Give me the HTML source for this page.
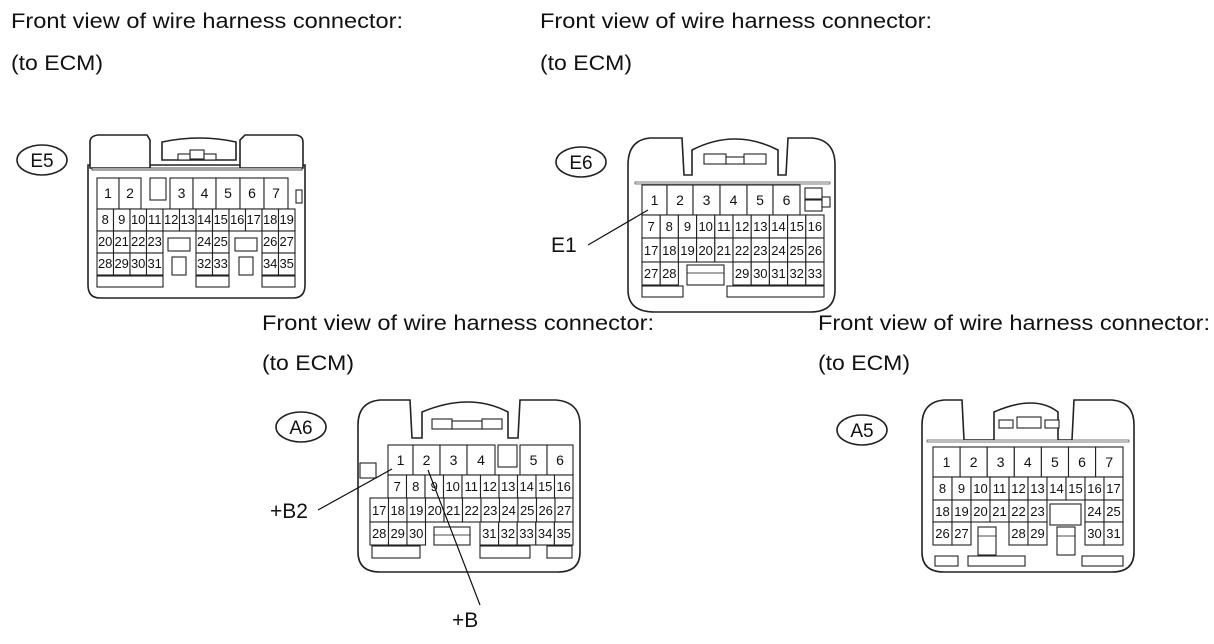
<!DOCTYPE html>
<html><head><meta charset="utf-8"><style>
html,body{margin:0;padding:0;background:#fff}
svg{display:block}
text{font-family:"Liberation Sans",Arial,sans-serif;fill:#111}
.h{font-size:21px}
.c rect{fill:#fff;stroke:#222;stroke-width:1.1}
.c text{font-size:13px;text-anchor:middle}
.c .b{font-size:14px}
.o{fill:#fff;stroke:#222;stroke-width:1.6}
.l{stroke:#111;stroke-width:1.2;fill:none}
.bd{font-size:19px;text-anchor:middle}
</style></head><body>
<svg width="1214" height="644" viewBox="0 0 1214 644" xmlns="http://www.w3.org/2000/svg">
<!-- headers -->
<text class="h" x="11" y="28" textLength="392" lengthAdjust="spacingAndGlyphs">Front view of wire harness connector:</text>
<text class="h" x="11" y="70" textLength="92" lengthAdjust="spacingAndGlyphs">(to ECM)</text>
<text class="h" x="540" y="28" textLength="392" lengthAdjust="spacingAndGlyphs">Front view of wire harness connector:</text>
<text class="h" x="540" y="70" textLength="92" lengthAdjust="spacingAndGlyphs">(to ECM)</text>
<text class="h" x="262" y="330" textLength="392" lengthAdjust="spacingAndGlyphs">Front view of wire harness connector:</text>
<text class="h" x="262" y="370" textLength="92" lengthAdjust="spacingAndGlyphs">(to ECM)</text>
<text class="h" x="818" y="330" textLength="392" lengthAdjust="spacingAndGlyphs">Front view of wire harness connector:</text>
<text class="h" x="818" y="370" textLength="92" lengthAdjust="spacingAndGlyphs">(to ECM)</text>

<!-- badges -->
<ellipse cx="42" cy="160" rx="25" ry="15" class="o"/><text class="bd" x="42" y="167">E5</text>
<ellipse cx="581" cy="162" rx="25" ry="15" class="o"/><text class="bd" x="581" y="169">E6</text>
<ellipse cx="301" cy="427" rx="25" ry="15" class="o"/><text class="bd" x="301" y="434">A6</text>
<ellipse cx="862" cy="430" rx="25" ry="15" class="o"/><text class="bd" x="862" y="437">A5</text>

<!-- ================= E5 ================= -->
<g class="c">
<path class="o" d="M88,165 L88,285 Q88,298 100,298 L293,298 Q305,298 305,285 L305,165 Z"/>
<path class="o" d="M90,168 L90,142 Q90,136 98,135 L147,135 L150,140 L150,168 Z"/>
<path class="o" d="M162,160 L162,142 Q200,134 236,142 L236,160 Z"/>
<path class="o" d="M240,168 L240,140 L245,135 L296,135 Q303,136 303,142 L303,168 Z"/>
<rect x="190" y="150" width="14" height="9"/>
<rect x="178" y="154" width="12" height="6"/><rect x="204" y="154" width="12" height="6"/>
<rect x="92" y="168" width="210" height="2" style="stroke-width:0.8"/>
<rect x="150" y="178" width="16" height="22"/>
<rect x="296" y="190" width="6" height="13"/>
<rect x="97" y="178" width="22" height="31"/><text class="b" x="108" y="198">1</text>
<rect x="119" y="178" width="22" height="31"/><text class="b" x="130" y="198">2</text>
<rect x="170" y="178" width="23" height="31"/><text class="b" x="181.5" y="198">3</text>
<rect x="193" y="178" width="23" height="31"/><text class="b" x="204.5" y="198">4</text>
<rect x="216" y="178" width="24" height="31"/><text class="b" x="228" y="198">5</text>
<rect x="240" y="178" width="24" height="31"/><text class="b" x="252" y="198">6</text>
<rect x="264" y="178" width="24" height="31"/><text class="b" x="276" y="198">7</text>
<rect x="97" y="209" width="16.5" height="22"/><text x="105.2" y="224">8</text>
<rect x="113.5" y="209" width="16.5" height="22"/><text x="121.7" y="224">9</text>
<rect x="130" y="209" width="16.5" height="22"/><text x="138.2" y="224">10</text>
<rect x="146.5" y="209" width="16.5" height="22"/><text x="154.7" y="224">11</text>
<rect x="163" y="209" width="16.5" height="22"/><text x="171.2" y="224">12</text>
<rect x="179.5" y="209" width="16.5" height="22"/><text x="187.7" y="224">13</text>
<rect x="196" y="209" width="16.5" height="22"/><text x="204.2" y="224">14</text>
<rect x="212.5" y="209" width="16.5" height="22"/><text x="220.7" y="224">15</text>
<rect x="229" y="209" width="16.5" height="22"/><text x="237.2" y="224">16</text>
<rect x="245.5" y="209" width="16.5" height="22"/><text x="253.7" y="224">17</text>
<rect x="262" y="209" width="16.5" height="22"/><text x="270.2" y="224">18</text>
<rect x="278.5" y="209" width="16.5" height="22"/><text x="286.7" y="224">19</text>
<rect x="97" y="231" width="16.5" height="22"/><text x="105.2" y="246">20</text>
<rect x="113.5" y="231" width="16.5" height="22"/><text x="121.7" y="246">21</text>
<rect x="130" y="231" width="16.5" height="22"/><text x="138.2" y="246">22</text>
<rect x="146.5" y="231" width="16.5" height="22"/><text x="154.7" y="246">23</text>
<rect x="168" y="238" width="22" height="13"/>
<rect x="196" y="231" width="16.5" height="22"/><text x="204.2" y="246">24</text>
<rect x="212.5" y="231" width="16.5" height="22"/><text x="220.7" y="246">25</text>
<rect x="235" y="238" width="22" height="13"/>
<rect x="262" y="231" width="16.5" height="22"/><text x="270.2" y="246">26</text>
<rect x="278.5" y="231" width="16.5" height="22"/><text x="286.7" y="246">27</text>
<rect x="97" y="253" width="16.5" height="22"/><text x="105.2" y="268">28</text>
<rect x="113.5" y="253" width="16.5" height="22"/><text x="121.7" y="268">29</text>
<rect x="130" y="253" width="16.5" height="22"/><text x="138.2" y="268">30</text>
<rect x="146.5" y="253" width="16.5" height="22"/><text x="154.7" y="268">31</text>
<rect x="172" y="257" width="14" height="18"/>
<rect x="196" y="253" width="16.5" height="22"/><text x="204.2" y="268">32</text>
<rect x="212.5" y="253" width="16.5" height="22"/><text x="220.7" y="268">33</text>
<rect x="239" y="257" width="14" height="18"/>
<rect x="262" y="253" width="16.5" height="22"/><text x="270.2" y="268">34</text>
<rect x="278.5" y="253" width="16.5" height="22"/><text x="286.7" y="268">35</text>
<rect x="97" y="276" width="66" height="11"/><rect x="196" y="276" width="33" height="11"/><rect x="262" y="276" width="33" height="11"/>
</g>

<!-- ================= E6 ================= -->
<g class="c">
<path class="o" d="M628,165 Q628,140 650,138 L682,138 L684,175 L692,175 L692,150 Q735,128 778,150 L778,175 L786,175 L788,138 L812,138 Q835,140 835,165 L835,290 Q835,312 810,312 L655,312 Q628,312 628,290 Z"/>
<rect x="704" y="154" width="22" height="10"/><rect x="744" y="154" width="22" height="10"/><rect x="726" y="157" width="18" height="7"/>
<rect x="635" y="182" width="195" height="2" style="stroke-width:0.6"/>
<rect x="642" y="185" width="25" height="30"/><text class="b" x="654.5" y="205">1</text>
<rect x="667" y="185" width="26" height="30"/><text class="b" x="680" y="205">2</text>
<rect x="693" y="185" width="27" height="30"/><text class="b" x="706.5" y="205">3</text>
<rect x="720" y="185" width="27" height="30"/><text class="b" x="733.5" y="205">4</text>
<rect x="747" y="185" width="26" height="30"/><text class="b" x="760" y="205">5</text>
<rect x="773" y="185" width="27" height="30"/><text class="b" x="786.5" y="205">6</text>
<rect x="805" y="188" width="17" height="11"/><rect x="805" y="200" width="17" height="11"/><rect x="822" y="197" width="8" height="10"/>
<rect x="642" y="215" width="18.2" height="23"/><text x="651.1" y="231">7</text>
<rect x="660.2" y="215" width="18.2" height="23"/><text x="669.3" y="231">8</text>
<rect x="678.4" y="215" width="18.2" height="23"/><text x="687.5" y="231">9</text>
<rect x="696.6" y="215" width="18.2" height="23"/><text x="705.7" y="231">10</text>
<rect x="714.8" y="215" width="18.2" height="23"/><text x="723.9" y="231">11</text>
<rect x="733" y="215" width="18.2" height="23"/><text x="742.1" y="231">12</text>
<rect x="751.2" y="215" width="18.2" height="23"/><text x="760.3" y="231">13</text>
<rect x="769.4" y="215" width="18.2" height="23"/><text x="778.5" y="231">14</text>
<rect x="787.6" y="215" width="18.2" height="23"/><text x="796.7" y="231">15</text>
<rect x="805.8" y="215" width="18.2" height="23"/><text x="814.9" y="231">16</text>
<rect x="642" y="238" width="18.2" height="24"/><text x="651.1" y="255">17</text>
<rect x="660.2" y="238" width="18.2" height="24"/><text x="669.3" y="255">18</text>
<rect x="678.4" y="238" width="18.2" height="24"/><text x="687.5" y="255">19</text>
<rect x="696.6" y="238" width="18.2" height="24"/><text x="705.7" y="255">20</text>
<rect x="714.8" y="238" width="18.2" height="24"/><text x="723.9" y="255">21</text>
<rect x="733" y="238" width="18.2" height="24"/><text x="742.1" y="255">22</text>
<rect x="751.2" y="238" width="18.2" height="24"/><text x="760.3" y="255">23</text>
<rect x="769.4" y="238" width="18.2" height="24"/><text x="778.5" y="255">24</text>
<rect x="787.6" y="238" width="18.2" height="24"/><text x="796.7" y="255">25</text>
<rect x="805.8" y="238" width="18.2" height="24"/><text x="814.9" y="255">26</text>
<rect x="642" y="262" width="18.2" height="23"/><text x="651.1" y="278">27</text>
<rect x="660.2" y="262" width="18.2" height="23"/><text x="669.3" y="278">28</text>
<rect x="687" y="265" width="37" height="20"/><line x1="687" y1="273" x2="724" y2="273" class="l" style="stroke-width:0.8"/>
<rect x="733" y="262" width="18.2" height="23"/><text x="742.1" y="278">29</text>
<rect x="751.2" y="262" width="18.2" height="23"/><text x="760.3" y="278">30</text>
<rect x="769.4" y="262" width="18.2" height="23"/><text x="778.5" y="278">31</text>
<rect x="787.6" y="262" width="18.2" height="23"/><text x="796.7" y="278">32</text>
<rect x="805.8" y="262" width="18.2" height="23"/><text x="814.9" y="278">33</text>
<rect x="642" y="286" width="41" height="11"/><rect x="727" y="286" width="97" height="11"/>
</g>
<line x1="588" y1="245" x2="648" y2="210" class="l"/>
<text class="h" x="551" y="252">E1</text>

<!-- ================= A6 ================= -->
<g class="c">
<path class="o" d="M358,425 Q358,402 380,400 L410,400 L412,438 L422,438 L422,412 Q470,392 508,412 L508,438 L518,438 L520,400 L556,400 Q580,402 580,425 L580,552 Q580,572 558,572 L380,572 Q358,572 358,552 Z"/>
<rect x="432" y="419" width="20" height="10"/><rect x="482" y="419" width="20" height="10"/><rect x="452" y="421" width="30" height="8"/>
<rect x="360" y="463" width="16" height="15"/>
<rect x="498" y="445" width="19" height="22"/>
<rect x="388" y="445" width="25" height="30"/><text class="b" x="400.5" y="465">1</text>
<rect x="413" y="445" width="27" height="30"/><text class="b" x="426.5" y="465">2</text>
<rect x="440" y="445" width="27" height="30"/><text class="b" x="453.5" y="465">3</text>
<rect x="467" y="445" width="28" height="30"/><text class="b" x="481" y="465">4</text>
<rect x="520" y="445" width="27" height="30"/><text class="b" x="533.5" y="465">5</text>
<rect x="547" y="445" width="26" height="30"/><text class="b" x="560" y="465">6</text>
<rect x="388" y="475" width="18.5" height="23"/><text x="397.2" y="491">7</text>
<rect x="406.5" y="475" width="18.5" height="23"/><text x="415.7" y="491">8</text>
<rect x="425" y="475" width="18.5" height="23"/><text x="434.2" y="491">9</text>
<rect x="443.5" y="475" width="18.5" height="23"/><text x="452.7" y="491">10</text>
<rect x="462" y="475" width="18.5" height="23"/><text x="471.2" y="491">11</text>
<rect x="480.5" y="475" width="18.5" height="23"/><text x="489.7" y="491">12</text>
<rect x="499" y="475" width="18.5" height="23"/><text x="508.2" y="491">13</text>
<rect x="517.5" y="475" width="18.5" height="23"/><text x="526.7" y="491">14</text>
<rect x="536" y="475" width="18.5" height="23"/><text x="545.2" y="491">15</text>
<rect x="554.5" y="475" width="18.5" height="23"/><text x="563.7" y="491">16</text>
<rect x="370" y="498" width="18.5" height="24"/><text x="379.2" y="515">17</text>
<rect x="388.5" y="498" width="18.5" height="24"/><text x="397.7" y="515">18</text>
<rect x="407" y="498" width="18.5" height="24"/><text x="416.2" y="515">19</text>
<rect x="425.5" y="498" width="18.5" height="24"/><text x="434.7" y="515">20</text>
<rect x="444" y="498" width="18.5" height="24"/><text x="453.2" y="515">21</text>
<rect x="462.5" y="498" width="18.5" height="24"/><text x="471.7" y="515">22</text>
<rect x="481" y="498" width="18.5" height="24"/><text x="490.2" y="515">23</text>
<rect x="499.5" y="498" width="18.5" height="24"/><text x="508.7" y="515">24</text>
<rect x="518" y="498" width="18.5" height="24"/><text x="527.2" y="515">25</text>
<rect x="536.5" y="498" width="18.5" height="24"/><text x="545.7" y="515">26</text>
<rect x="555" y="498" width="18" height="24"/><text x="564" y="515">27</text>
<rect x="370" y="522" width="18.5" height="23"/><text x="379.2" y="538">28</text>
<rect x="388.5" y="522" width="18.5" height="23"/><text x="397.7" y="538">29</text>
<rect x="407" y="522" width="18.5" height="23"/><text x="416.2" y="538">30</text>
<rect x="434" y="527" width="36" height="18"/><line x1="434" y1="535" x2="470" y2="535" class="l" style="stroke-width:0.8"/>
<rect x="480" y="522" width="18.6" height="23"/><text x="489.3" y="538">31</text>
<rect x="498.6" y="522" width="18.6" height="23"/><text x="507.9" y="538">32</text>
<rect x="517.2" y="522" width="18.6" height="23"/><text x="526.5" y="538">33</text>
<rect x="535.8" y="522" width="18.6" height="23"/><text x="545.1" y="538">34</text>
<rect x="554.4" y="522" width="18.6" height="23"/><text x="563.7" y="538">35</text>
<rect x="372" y="546" width="48" height="12"/><rect x="480" y="546" width="50" height="12"/><rect x="547" y="546" width="25" height="12"/>
</g>
<line x1="318" y1="510" x2="392" y2="469" class="l"/>
<text class="h" x="270" y="518">+B2</text>
<line x1="480" y1="605" x2="428" y2="470" class="l"/>
<text class="h" x="452" y="627">+B</text>

<!-- ================= A5 ================= -->
<g class="c">
<path class="o" d="M922,425 Q922,402 944,400 L962,400 L964,440 L994,440 L994,412 Q1035,394 1058,412 L1058,440 L1072,440 L1074,400 L1112,400 Q1134,402 1134,425 L1134,552 Q1134,572 1112,572 L944,572 Q922,572 922,552 Z"/>
<rect x="999" y="420" width="14" height="8"/><rect x="1045" y="420" width="14" height="8"/><rect x="1017" y="417" width="24" height="11"/>
<rect x="927" y="440" width="202" height="2" style="stroke-width:0.6"/>
<rect x="933" y="447" width="27.1" height="30"/><text class="b" x="946.5" y="467">1</text>
<rect x="960.1" y="447" width="27.1" height="30"/><text class="b" x="973.6" y="467">2</text>
<rect x="987.2" y="447" width="27.1" height="30"/><text class="b" x="1000.7" y="467">3</text>
<rect x="1014.3" y="447" width="27.1" height="30"/><text class="b" x="1027.8" y="467">4</text>
<rect x="1041.4" y="447" width="27.1" height="30"/><text class="b" x="1054.9" y="467">5</text>
<rect x="1068.5" y="447" width="27.1" height="30"/><text class="b" x="1082" y="467">6</text>
<rect x="1095.6" y="447" width="27.4" height="30"/><text class="b" x="1109.3" y="467">7</text>
<rect x="933" y="477" width="19" height="23"/><text x="942.5" y="493">8</text>
<rect x="952" y="477" width="19" height="23"/><text x="961.5" y="493">9</text>
<rect x="971" y="477" width="19" height="23"/><text x="980.5" y="493">10</text>
<rect x="990" y="477" width="19" height="23"/><text x="999.5" y="493">11</text>
<rect x="1009" y="477" width="19" height="23"/><text x="1018.5" y="493">12</text>
<rect x="1028" y="477" width="19" height="23"/><text x="1037.5" y="493">13</text>
<rect x="1047" y="477" width="19" height="23"/><text x="1056.5" y="493">14</text>
<rect x="1066" y="477" width="19" height="23"/><text x="1075.5" y="493">15</text>
<rect x="1085" y="477" width="19" height="23"/><text x="1094.5" y="493">16</text>
<rect x="1104" y="477" width="19" height="23"/><text x="1113.5" y="493">17</text>
<rect x="933" y="500" width="19" height="22"/><text x="942.5" y="516">18</text>
<rect x="952" y="500" width="19" height="22"/><text x="961.5" y="516">19</text>
<rect x="971" y="500" width="19" height="22"/><text x="980.5" y="516">20</text>
<rect x="990" y="500" width="19" height="22"/><text x="999.5" y="516">21</text>
<rect x="1009" y="500" width="19" height="22"/><text x="1018.5" y="516">22</text>
<rect x="1028" y="500" width="19" height="22"/><text x="1037.5" y="516">23</text>
<rect x="1050" y="504" width="31" height="21"/>
<rect x="1085" y="500" width="19" height="22"/><text x="1094.5" y="516">24</text>
<rect x="1104" y="500" width="19" height="22"/><text x="1113.5" y="516">25</text>
<rect x="933" y="522" width="19" height="23"/><text x="942.5" y="538">26</text>
<rect x="952" y="522" width="19" height="23"/><text x="961.5" y="538">27</text>
<rect x="978" y="527" width="18" height="28"/><line x1="978" y1="536" x2="996" y2="536" class="l" style="stroke-width:0.8"/>
<rect x="1009" y="522" width="19" height="23"/><text x="1018.5" y="538">28</text>
<rect x="1028" y="522" width="19" height="23"/><text x="1037.5" y="538">29</text>
<rect x="1057" y="527" width="18" height="28"/><line x1="1057" y1="536" x2="1075" y2="536" class="l" style="stroke-width:0.8"/>
<rect x="1085" y="522" width="19" height="23"/><text x="1094.5" y="538">30</text>
<rect x="1104" y="522" width="19" height="23"/><text x="1113.5" y="538">31</text>
<rect x="935" y="556" width="23" height="10"/><rect x="968" y="556" width="57" height="10"/><rect x="1082" y="556" width="41" height="10"/>
</g>
</svg>
</body></html>
